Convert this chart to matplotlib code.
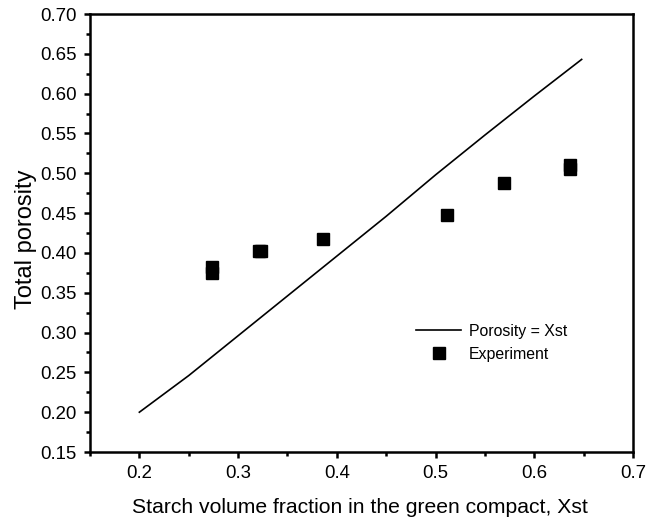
import matplotlib
matplotlib.use("Agg")
import matplotlib.pyplot as plt
from matplotlib.ticker import MultipleLocator, FormatStrFormatter

plt.rcParams["font.family"] = ["Liberation Sans", "DejaVu Sans"]

# model line: porosity equals starch volume fraction
model_x = [0.20, 0.25, 0.30, 0.35, 0.40, 0.45, 0.50, 0.55, 0.60, 0.648]
model_y = [0.200, 0.246, 0.296, 0.346, 0.396, 0.446, 0.498, 0.548, 0.597, 0.643]

# measured total porosity (duplicate runs overlap)
exp_x = [0.274, 0.274, 0.321, 0.323, 0.386, 0.512, 0.569, 0.636, 0.636]
exp_y = [0.382, 0.375, 0.403, 0.403, 0.418, 0.447, 0.488, 0.511, 0.505]

fig = plt.figure(figsize=(6.55, 5.21), dpi=100)
ax = fig.add_axes([0.1374, 0.1324, 0.829, 0.8407])

ax.plot(model_x, model_y, color="black", linewidth=1.2, label="Porosity = Xst")
ax.plot(exp_x, exp_y, linestyle="none", marker="s", markersize=8,
        color="black", label="Experiment")

ax.set_xlim(0.15, 0.7)
ax.set_ylim(0.15, 0.70)
ax.xaxis.set_major_locator(MultipleLocator(0.1))
ax.xaxis.set_minor_locator(MultipleLocator(0.05))
ax.yaxis.set_major_locator(MultipleLocator(0.05))
ax.yaxis.set_minor_locator(MultipleLocator(0.025))
ax.xaxis.set_major_formatter(FormatStrFormatter("%.1f"))
ax.yaxis.set_major_formatter(FormatStrFormatter("%.2f"))

ax.tick_params(which="both", direction="out", width=1.8, labelsize=13.4,
               top=False, right=False)
ax.tick_params(which="major", length=4.5, pad=5)
ax.tick_params(which="minor", length=3)
for sp in ax.spines.values():
    sp.set_linewidth(1.8)

ax.set_xlabel("Starch volume fraction in the green compact, Xst", fontsize=15.2)
ax.xaxis.set_label_coords(0.497, -0.105)
ax.set_ylabel("Total porosity", fontsize=17, va="center")
ax.yaxis.set_label_coords(-0.118, 0.486)

ax.legend(loc="upper left", bbox_to_anchor=(0.575, 0.325), frameon=False,
          fontsize=11.4, handlelength=2.8, handletextpad=0.5, labelspacing=0.48)

fig.savefig("out.png", dpi=100)
